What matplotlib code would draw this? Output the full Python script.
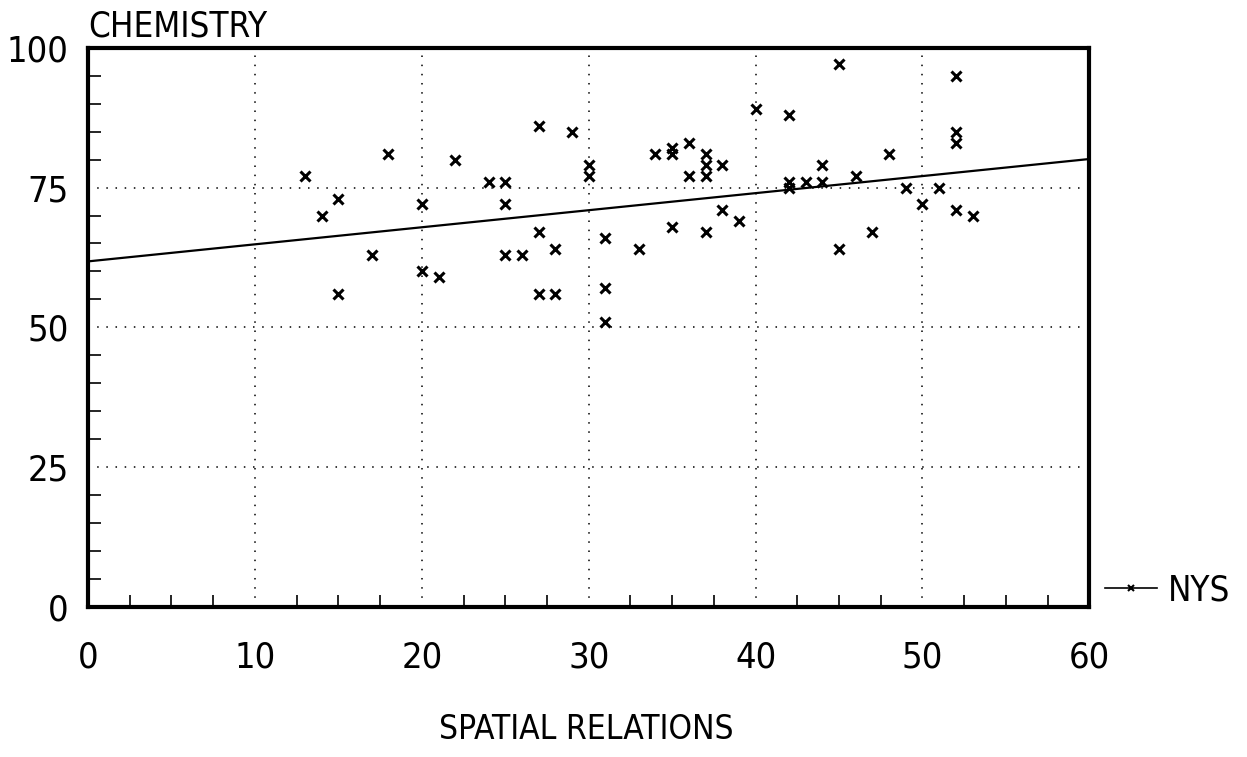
import numpy as np
import matplotlib
matplotlib.use("Agg")
import matplotlib.pyplot as plt
from matplotlib.ticker import MultipleLocator
from matplotlib.lines import Line2D

plt.rcParams['font.family'] = ['DejaVu Sans']
plt.rcParams['font.stretch'] = 'condensed'
plt.rcParams['font.weight'] = 'light'

# scores
spatial = [13, 14, 15, 15, 17, 18, 20, 20, 21, 22,
           24, 25, 25, 25, 26, 27, 27, 27, 28, 28,
           29, 30, 30, 31, 31, 31, 33, 34, 35, 35,
           35, 36, 36, 37, 37, 37, 37, 38, 38, 39,
           40, 42, 42, 42, 43, 44, 44, 45, 45, 46,
           47, 48, 49, 50, 51, 52, 52, 52, 52, 53]
chemistry = [77, 70, 73, 56, 63, 81, 72, 60, 59, 80,
             76, 76, 72, 63, 63, 86, 67, 56, 64, 56,
             85, 79, 77, 66, 57, 51, 64, 81, 82, 81,
             68, 83, 77, 81, 79, 77, 67, 79, 71, 69,
             89, 88, 76, 75, 76, 79, 76, 97, 64, 77,
             67, 81, 75, 72, 75, 95, 85, 83, 71, 70]

# fitted line as drawn on the original
fit_intercept = 61.8
fit_slope = 0.305
fit_x = [0, 60]

xticks = [0, 10, 20, 30, 40, 50, 60]
yticks = [0, 25, 50, 75, 100]

fig = plt.figure(figsize=(12.47, 7.57), dpi=100)
ax = fig.add_axes([0.0706, 0.198, 0.803, 0.739])

ax.plot(spatial, chemistry, linestyle='none', marker='x', color='black',
        markersize=7, markeredgewidth=2.2, zorder=3)
fx = np.array(fit_x, dtype=float)
ax.plot(fx, fit_intercept + fit_slope * fx, color='black', lw=1.6, zorder=2)

ax.set_xlim(0, 60)
ax.set_ylim(0, 100)
ax.set_xticks(xticks)
ax.set_yticks(yticks)
ax.xaxis.set_minor_locator(MultipleLocator(2.5))
ax.yaxis.set_minor_locator(MultipleLocator(5))
ax.tick_params(axis='both', which='major', length=0, labelsize=26)
ax.tick_params(axis='x', which='major', pad=24)
ax.tick_params(axis='y', which='major', pad=14)
ax.tick_params(which='minor', direction='in', length=9, width=1.2,
               top=False, right=False)

# dotted grid at the interior ticks only
for gx in xticks[1:-1]:
    ax.axvline(gx, color='black', lw=1.1, linestyle=(0, (1, 5)), zorder=1)
for gy in yticks[1:-1]:
    ax.axhline(gy, color='black', lw=1.1, linestyle=(0, (1, 5)), zorder=1)

for s in ax.spines.values():
    s.set_linewidth(3)

ax.text(0.0, 1.008, 'CHEMISTRY', transform=ax.transAxes, ha='left',
        va='bottom', fontsize=25)
fig.text(0.47, 0.015, 'SPATIAL RELATIONS', ha='center', va='bottom',
         fontsize=24)

# legend outside the bottom right corner
h = Line2D([], [], color='black', lw=1.2, marker='x', markersize=5,
           markeredgewidth=1.5)
ax.legend([h], ['NYS'], loc='center left', bbox_to_anchor=(1.016, 0.03),
          frameon=False, fontsize=25, handlelength=1.5, handletextpad=0.3,
          borderaxespad=0, borderpad=0)

fig.savefig('out.png', dpi=100)
